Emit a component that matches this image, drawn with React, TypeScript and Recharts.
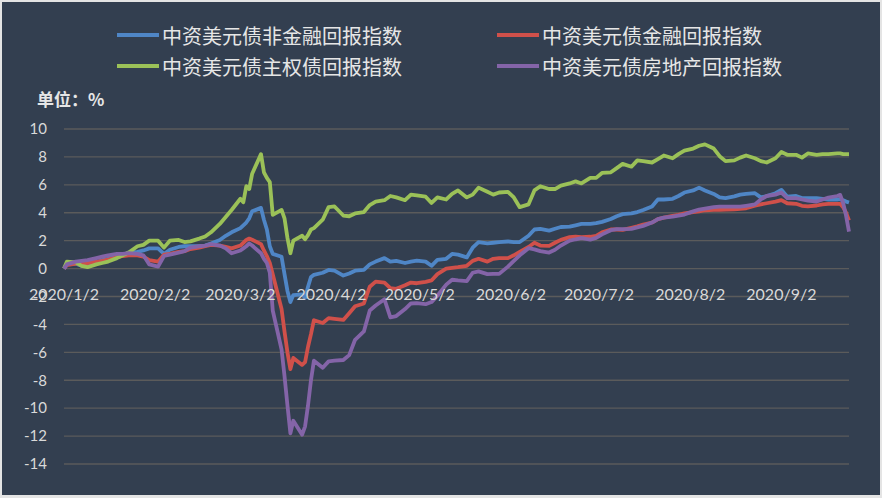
import React from "react";
import { LineChart, Line, XAxis, YAxis, CartesianGrid } from "recharts";

// trading dates sampled from the index series
const dates = [
  // Jan
  "2020/1/2", "2020/1/3", "2020/1/6", "2020/1/8", "2020/1/10", "2020/1/13", "2020/1/15", "2020/1/17", "2020/1/20", "2020/1/22", "2020/1/24", "2020/1/27", "2020/1/29", "2020/1/31",
  // Feb
  "2020/2/3", "2020/2/5", "2020/2/7", "2020/2/10", "2020/2/12", "2020/2/14", "2020/2/17", "2020/2/19", "2020/2/21", "2020/2/24", "2020/2/26", "2020/2/28",
  // Mar
  "2020/3/2", "2020/3/3", "2020/3/4", "2020/3/5", "2020/3/6", "2020/3/9", "2020/3/10", "2020/3/11", "2020/3/12", "2020/3/13", "2020/3/16", "2020/3/17", "2020/3/18", "2020/3/19", "2020/3/20", "2020/3/23", "2020/3/24", "2020/3/25", "2020/3/26", "2020/3/27", "2020/3/30",
  // Apr
  "2020/4/1", "2020/4/3", "2020/4/6", "2020/4/8", "2020/4/10", "2020/4/13", "2020/4/15", "2020/4/17", "2020/4/20", "2020/4/22", "2020/4/24", "2020/4/27", "2020/4/29",
  // May
  "2020/5/1", "2020/5/4", "2020/5/6", "2020/5/8", "2020/5/11", "2020/5/13", "2020/5/15", "2020/5/18", "2020/5/20", "2020/5/22", "2020/5/25", "2020/5/27", "2020/5/29",
  // Jun
  "2020/6/1", "2020/6/3", "2020/6/5", "2020/6/8", "2020/6/10", "2020/6/12", "2020/6/15", "2020/6/17", "2020/6/19", "2020/6/22", "2020/6/24", "2020/6/26", "2020/6/29",
  // Jul
  "2020/7/1", "2020/7/3", "2020/7/6", "2020/7/8", "2020/7/10", "2020/7/13", "2020/7/15", "2020/7/17", "2020/7/20", "2020/7/22", "2020/7/24", "2020/7/27", "2020/7/29", "2020/7/31",
  // Aug
  "2020/8/3", "2020/8/5", "2020/8/7", "2020/8/10", "2020/8/12", "2020/8/14", "2020/8/17", "2020/8/19", "2020/8/21", "2020/8/24", "2020/8/26", "2020/8/28", "2020/8/31",
  // Sep
  "2020/9/2", "2020/9/4", "2020/9/7", "2020/9/9", "2020/9/11", "2020/9/14", "2020/9/16", "2020/9/18", "2020/9/21", "2020/9/22", "2020/9/23", "2020/9/24", "2020/9/25",
];

// 中资美元债非金融回报指数
const nonFinancial = [
  0, 0.3, 0.35, 0.2, 0.2, 0.45, 0.6, 0.7, 0.85, 0.95, 1.15, 1.2, 1.3, 1.45,
  1.45, 1.05, 1.35, 1.55, 1.6, 1.6, 1.6, 1.65, 1.8, 2.05, 2.35, 2.6,
  2.9, 3.1, 3.3, 3.6, 4.1, 4.35, 3.5, 2.8, 1.6, 1.05, 0.85, -0.4, -1.6, -2.4, -1.9, -1.85, -2.1, -1.3, -0.6, -0.45, -0.3,
  -0.1, -0.15, -0.5, -0.35, -0.15, -0.1, 0.3, 0.5, 0.75, 0.5, 0.55, 0.4, 0.5,
  0.57, 0.5, 0.2, 0.62, 0.7, 1.05, 1.0, 0.8, 1.5, 1.9, 1.8, 1.85, 1.9,
  1.94, 1.9, 1.9, 2.35, 2.8, 2.85, 2.72, 2.85, 2.98, 3.0, 3.1, 3.2, 3.2,
  3.25, 3.35, 3.55, 3.75, 3.9, 3.95, 4.05, 4.2, 4.45, 4.95, 4.95, 5.0, 5.2, 5.45,
  5.6, 5.8, 5.6, 5.35, 5.1, 5.05, 5.17, 5.3, 5.35, 5.4, 5.1, 5.2, 5.4,
  5.64, 5.15, 5.2, 5.05, 5.05, 5.05, 5.0, 4.95, 4.95, 4.97, 4.9, 4.8, 4.73,
];

// 中资美元债金融回报指数
const financial = [
  0, 0.25, 0.35, 0.35, 0.4, 0.5, 0.55, 0.65, 0.8, 0.9, 0.95, 0.95, 0.85, 0.6,
  0.5, 1.0, 1.05, 1.2, 1.25, 1.4, 1.5, 1.6, 1.7, 1.65, 1.55, 1.45,
  1.65, 1.85, 2.05, 2.15, 2.06, 1.75, 1.3, 0.9, 0.4, -0.4, -2.9, -4.5, -6.0, -7.2, -6.4, -6.9, -6.7, -5.6, -4.7, -3.7, -3.9,
  -3.55, -3.6, -3.68, -3.2, -2.7, -2.5, -1.3, -0.93, -1.0, -1.4, -1.45, -1.2, -1.0,
  -1.05, -0.95, -0.85, -0.4, 0.0, 0.05, 0.1, 0.2, 0.55, 0.7, 0.5, 0.7, 0.75,
  0.75, 0.95, 1.2, 1.55, 1.85, 1.65, 1.63, 1.85, 2.06, 2.25, 2.29, 2.25, 2.28,
  2.35, 2.6, 2.8, 2.8, 2.77, 2.92, 3.02, 3.15, 3.3, 3.55, 3.65, 3.78, 3.85, 3.95,
  4.05, 4.1, 4.18, 4.21, 4.21, 4.22, 4.25, 4.28, 4.32, 4.5, 4.6, 4.68, 4.8,
  4.9, 4.68, 4.64, 4.5, 4.45, 4.52, 4.6, 4.64, 4.64, 4.64, 4.4, 4.0, 3.45,
];

// 中资美元债主权债回报指数
const sovereign = [
  0, 0.5, 0.45, 0.2, 0.1, 0.3, 0.4, 0.5, 0.75, 0.95, 1.15, 1.6, 1.7, 2.0,
  2.0, 1.5, 2.0, 2.05, 1.9, 1.95, 2.15, 2.3, 2.6, 3.2, 3.7, 4.2,
  5.0, 4.75, 5.9, 5.7, 6.8, 8.2, 6.9, 6.5, 6.2, 3.85, 4.2, 3.6, 2.2, 1.1, 2.0, 2.35, 2.1, 2.4, 2.8, 2.9, 3.5,
  4.4, 4.45, 3.8, 3.75, 3.95, 4.05, 4.55, 4.8, 4.9, 5.2, 5.1, 4.9, 5.3,
  5.25, 5.15, 4.7, 5.1, 4.95, 5.35, 5.6, 5.1, 5.3, 5.8, 5.5, 5.3, 5.45,
  5.5, 5.1, 4.4, 4.6, 5.6, 5.9, 5.7, 5.7, 5.95, 6.1, 6.25, 6.1, 6.5,
  6.5, 6.85, 6.9, 7.2, 7.5, 7.3, 7.75, 7.7, 7.6, 7.85, 8.1, 7.9, 8.2, 8.45,
  8.6, 8.8, 8.9, 8.6, 8.05, 7.7, 7.75, 7.95, 8.1, 7.9, 7.7, 7.6, 7.9,
  8.35, 8.15, 8.15, 7.95, 8.25, 8.15, 8.2, 8.2, 8.25, 8.25, 8.2, 8.2, 8.2,
];

// 中资美元债房地产回报指数
const realEstate = [
  0, 0.3, 0.5, 0.55, 0.6, 0.75, 0.85, 0.95, 1.05, 1.05, 1.1, 1.05, 0.95, 0.3,
  0.14, 0.9, 1.0, 1.15, 1.25, 1.5, 1.6, 1.65, 1.75, 1.65, 1.45, 1.1,
  1.3, 1.45, 1.6, 1.8, 1.65, 1.1, 0.7, 0.4, -0.3, -3.0, -5.8, -7.7, -9.8, -11.8, -10.9, -11.9, -11.3, -9.8, -8.0, -6.6, -7.1,
  -6.65, -6.6, -6.55, -6.2, -5.1, -4.5, -3.0, -2.65, -2.2, -3.5, -3.4, -2.9, -2.5,
  -2.48, -2.55, -2.4, -1.95, -1.15, -0.8, -0.85, -0.9, -0.3, -0.2, -0.4, -0.38, -0.38,
  0.14, 0.55, 0.95, 1.46, 1.38, 1.25, 1.15, 1.35, 1.65, 2.0, 2.1, 2.18, 2.08,
  2.2, 2.45, 2.75, 2.82, 2.82, 2.85, 2.95, 3.06, 3.3, 3.55, 3.65, 3.73, 3.8, 3.87,
  4.1, 4.23, 4.3, 4.4, 4.44, 4.44, 4.44, 4.44, 4.5, 4.6, 4.95, 5.2, 5.3,
  5.45, 5.05, 5.05, 4.95, 4.87, 4.8, 4.95, 5.08, 5.2, 5.28, 4.7, 3.8, 2.65,
];

const xTickLabels = ["2020/1/2", "2020/2/2", "2020/3/2", "2020/4/2", "2020/5/2", "2020/6/2", "2020/7/2", "2020/8/2", "2020/9/2"];
const yTicks = [-14, -12, -10, -8, -6, -4, -2, 0, 2, 4, 6, 8, 10];

const series = [
  { key: "nonFinancial", name: "中资美元债非金融回报指数", color: "#4f86c6" },
  { key: "financial", name: "中资美元债金融回报指数", color: "#d0504a" },
  { key: "sovereign", name: "中资美元债主权债回报指数", color: "#9bc158" },
  { key: "realEstate", name: "中资美元债房地产回报指数", color: "#8464a8" },
];

const toTime = (s: string) => {
  const [y, m, d] = s.split("/").map(Number);
  return Date.UTC(y, m - 1, d);
};
const fmtDate = (t: number) => {
  const d = new Date(t);
  return `${d.getUTCFullYear()}/${d.getUTCMonth() + 1}/${d.getUTCDate()}`;
};

const data = dates.map((d, i) => ({
  t: toTime(d),
  nonFinancial: nonFinancial[i],
  financial: financial[i],
  sovereign: sovereign[i],
  realEstate: realEstate[i],
}));

const W = 882;
const H = 498;
const PLOT_TOP = 129;
const PLOT_BOTTOM = 464;
const Y_MIN = -14;
const Y_MAX = 10;
const zeroY = PLOT_TOP + ((PLOT_BOTTOM - PLOT_TOP) * Y_MAX) / (Y_MAX - Y_MIN);
const BG = "#333f50";
const TEXT = "#d9d9d9";
const NUM_FONT = "Lato, 'Open Sans', sans-serif";
const CJK_FONT = "'Noto Sans CJK SC', sans-serif";

// date labels sit just under the zero line, like the original
function DateTick(props: any) {
  const { x, payload } = props;
  return (
    <text x={x} y={zeroY + 31} textAnchor="middle" fill={TEXT} fontSize={16} fontFamily={NUM_FONT}>
      {fmtDate(payload.value)}
    </text>
  );
}

function LegendBlock() {
  const cols = [117, 497];
  const rows = [35, 66];
  return (
    <>
      {series.map((s, i) => (
        <div
          key={s.key}
          style={{
            position: "absolute",
            left: cols[i % 2],
            top: rows[Math.floor(i / 2)] - 14,
            height: 28,
            display: "flex",
            alignItems: "center",
            fontFamily: CJK_FONT,
            fontSize: 20,
            color: "#e6e6e6",
            whiteSpace: "nowrap",
          }}
        >
          <span style={{ display: "inline-block", width: 42, height: 4, background: s.color, marginRight: 3 }} />
          {s.name}
        </div>
      ))}
    </>
  );
}

export default function App() {
  return (
    <div style={{ position: "absolute", left: 0, top: 0, width: W, height: H, background: "#e4e4e4" }}>
      <div style={{ position: "absolute", left: 2, top: 2, width: W - 4, height: H - 5, background: BG }} />
      <LegendBlock />
      <div
        style={{
          position: "absolute",
          left: 37,
          top: 86,
          fontFamily: CJK_FONT,
          fontSize: 17,
          fontWeight: 700,
          color: "#e6e6e6",
        }}
      >
        单位：%
      </div>
      <div style={{ position: "absolute", left: 0, top: 0 }}>
        <LineChart width={W} height={H} data={data} margin={{ top: PLOT_TOP, right: 33, bottom: H - PLOT_BOTTOM - 1, left: 14 }}>
          <CartesianGrid vertical={false} stroke="#5b5b5b" strokeWidth={1.3} />
          <XAxis
            dataKey="t"
            type="number"
            scale="time"
            domain={[toTime(dates[0]), toTime(dates[dates.length - 1])]}
            ticks={xTickLabels.map(toTime)}
            tick={<DateTick />}
            axisLine={false}
            tickLine={false}
            height={1}
            interval={0}
          />
          <YAxis
            domain={[Y_MIN, Y_MAX]}
            ticks={yTicks}
            axisLine={false}
            tickLine={false}
            tickSize={0}
            tickMargin={17}
            width={50}
            interval={0}
            tick={{ fill: TEXT, fontSize: 15, fontFamily: NUM_FONT }}
          />
          {series.map((s) => (
            <Line
              key={s.key}
              dataKey={s.key}
              name={s.name}
              type="linear"
              stroke={s.color}
              strokeWidth={3.8}
              dot={false}
              strokeLinejoin="round"
              isAnimationActive={false}
            />
          ))}
        </LineChart>
      </div>
    </div>
  );
}
